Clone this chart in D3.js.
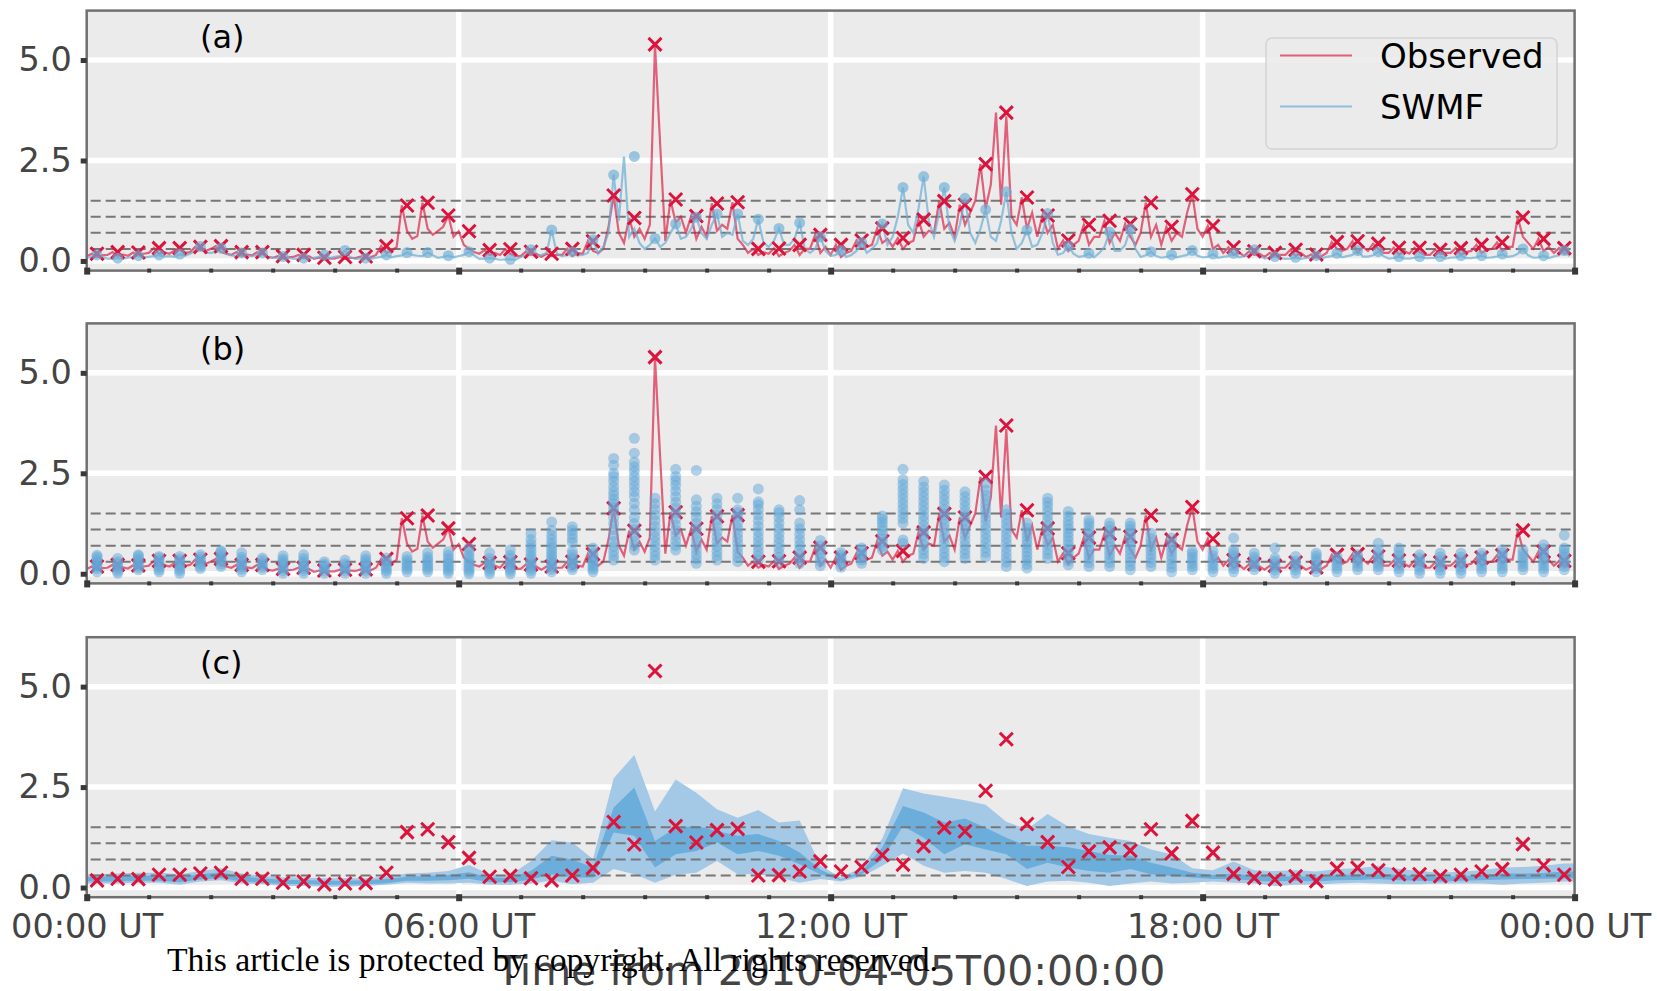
<!DOCTYPE html>
<html>
<head>
<meta charset="utf-8">
<script src="https://cdn.jsdelivr.net/npm/d3@7"></script>
<style>
  body { margin: 0; background: #fff; }
  svg { display: block; }
</style>
</head>
<body>
<div id="chart"></div>
<script>
// dB/dt comparison, 2010-04-05 (observed vs SWMF)

const hourTicks = [0, 360, 720, 1080, 1440];
const tickLabels = ["00:00 UT", "06:00 UT", "12:00 UT", "18:00 UT", "00:00 UT"];
const yTicks = [0, 2.5, 5.0];
const thresholds = [0.3, 0.7, 1.1, 1.5];
const panelLabels = ["(a)", "(b)", "(c)"];

// observed, 20 min maxima (one per window)
const obsMax = [0.18,0.22,0.21,0.32,0.32,0.35,0.37,0.22,0.22,0.12,0.15,0.08,0.10,0.11,0.37,1.38,1.45,1.13,0.74,0.27,
  0.29,0.23,0.18,0.30,0.49,1.63,1.07,5.39,1.53,1.12,1.43,1.46,0.30,0.31,0.40,0.65,0.40,0.51,0.81,0.57,
  1.03,1.49,1.40,2.41,3.69,1.58,1.13,0.51,0.90,1.00,0.92,1.45,0.85,1.66,0.87,0.34,0.24,0.20,0.28,0.16,
  0.47,0.49,0.43,0.33,0.33,0.28,0.32,0.40,0.46,1.08,0.55,0.32];

// SWMF, 20 min maxima
const swmfMax = [0.15,0.07,0.13,0.15,0.17,0.36,0.32,0.20,0.20,0.11,0.07,0.15,0.26,0.07,0.15,0.21,0.21,0.13,0.23,0.07,
  0.04,0.28,0.77,0.23,0.53,2.14,2.60,0.56,0.92,1.09,1.17,1.17,1.04,0.81,0.95,0.60,0.26,0.46,0.92,1.83,
  2.10,1.83,1.56,1.28,1.72,0.77,1.18,0.37,0.19,0.72,0.80,0.23,0.15,0.26,0.17,0.19,0.28,0.11,0.09,0.13,
  0.19,0.26,0.23,0.11,0.11,0.11,0.13,0.13,0.17,0.30,0.13,0.26];

// observed dB/dt, 5 min samples
const obsLine = [
  0.12,0.18,0.10,0.14, 0.15,0.22,0.12,0.16, 0.13,0.21,0.15,0.18, 0.20,0.32,0.18,0.22,
  0.18,0.26,0.32,0.20, 0.22,0.35,0.28,0.25, 0.30,0.37,0.22,0.18, 0.15,0.22,0.12,0.16,
  0.14,0.22,0.17,0.10, 0.08,0.12,0.06,0.09, 0.10,0.15,0.08,0.12, 0.05,0.08,0.04,0.06,
  0.06,0.10,0.05,0.08, 0.07,0.11,0.08,0.09, 0.15,0.37,0.20,0.25, 0.35,1.38,0.75,0.55,
  0.62,1.45,0.80,0.65, 0.75,0.85,1.13,0.60, 0.74,0.40,0.30,0.22, 0.18,0.27,0.15,0.20,
  0.15,0.29,0.18,0.12, 0.12,0.23,0.15,0.18, 0.10,0.18,0.12,0.15, 0.15,0.30,0.12,0.20,
  0.18,0.49,0.25,0.20, 0.30,0.85,1.63,0.70, 0.45,1.07,0.60,0.80, 0.55,0.90,5.39,2.90,
  0.50,1.53,0.95,1.10, 0.70,1.12,0.55,0.85, 0.60,1.43,0.75,0.90, 0.80,1.46,0.55,0.40,
  0.20,0.30,0.15,0.22, 0.18,0.31,0.12,0.20, 0.25,0.40,0.15,0.30, 0.30,0.65,0.20,0.35,
  0.15,0.40,0.10,0.20, 0.25,0.51,0.30,0.35, 0.40,0.81,0.45,0.55, 0.35,0.57,0.30,0.45,
  0.50,1.03,0.60,0.75, 0.70,1.49,0.80,0.95, 0.60,1.40,0.90,1.20, 1.50,2.41,1.30,1.90,
  3.69,1.40,3.60,1.10, 0.90,1.58,0.80,1.20, 0.60,1.13,0.70,0.90, 0.30,0.51,0.25,0.40,
  0.50,0.90,0.40,0.60, 0.60,1.00,0.45,0.70, 0.50,0.92,0.60,0.40, 0.70,1.45,0.60,0.90,
  0.40,0.85,0.50,0.70, 0.60,1.20,1.66,0.80, 0.60,0.87,0.30,0.40, 0.20,0.34,0.15,0.22,
  0.12,0.24,0.15,0.18, 0.10,0.20,0.12,0.15, 0.15,0.28,0.12,0.20, 0.10,0.16,0.08,0.12,
  0.20,0.47,0.30,0.25, 0.30,0.49,0.20,0.35, 0.25,0.43,0.30,0.20, 0.20,0.33,0.15,0.25,
  0.18,0.33,0.22,0.15, 0.15,0.28,0.18,0.20, 0.20,0.32,0.15,0.22, 0.25,0.40,0.20,0.28,
  0.30,0.46,0.25,0.35, 0.35,1.08,0.60,0.45, 0.30,0.55,0.25,0.35, 0.20,0.32,0.18,0.22];

// SWMF dB/dt, 5 min samples
const swmfLine = [
  0.08,0.10,0.15,0.09, 0.06,0.05,0.07,0.06, 0.08,0.10,0.13,0.09, 0.10,0.12,0.15,0.11,
  0.12,0.10,0.17,0.13, 0.18,0.25,0.36,0.20, 0.20,0.22,0.32,0.18, 0.14,0.12,0.20,0.13,
  0.12,0.15,0.20,0.10, 0.08,0.07,0.11,0.08, 0.05,0.06,0.07,0.05, 0.08,0.10,0.15,0.07,
  0.10,0.12,0.26,0.09, 0.05,0.06,0.07,0.05, 0.08,0.10,0.15,0.09, 0.12,0.14,0.21,0.15,
  0.13,0.12,0.21,0.14, 0.08,0.10,0.13,0.09, 0.12,0.15,0.23,0.14, 0.05,0.06,0.07,0.05,
  0.03,0.04,0.04,0.03, 0.10,0.15,0.28,0.12, 0.15,0.20,0.77,0.18, 0.12,0.15,0.23,0.14,
  0.15,0.20,0.53,0.18, 0.35,0.70,2.14,1.00, 2.60,0.60,0.80,0.45, 0.30,0.40,0.56,0.35,
  0.45,0.70,0.92,0.55, 0.60,0.80,1.09,0.70, 0.55,0.90,1.17,0.60, 0.70,0.65,1.17,0.50,
  0.40,0.55,1.04,0.45, 0.35,0.50,0.81,0.40, 0.40,0.55,0.95,0.30, 0.20,0.30,0.60,0.25,
  0.12,0.15,0.26,0.10, 0.15,0.25,0.46,0.20, 0.30,0.45,0.92,0.40, 0.60,1.10,1.83,0.90,
  0.70,1.30,2.10,1.00, 0.60,1.20,1.83,0.80, 0.50,0.90,1.56,0.70, 0.45,0.80,1.28,0.60,
  0.50,1.00,1.72,0.70, 0.30,0.45,0.77,0.35, 0.40,0.70,1.18,0.45, 0.15,0.20,0.37,0.18,
  0.10,0.12,0.19,0.09, 0.20,0.35,0.72,0.25, 0.25,0.40,0.80,0.30, 0.10,0.14,0.23,0.12,
  0.08,0.10,0.15,0.09, 0.12,0.15,0.26,0.13, 0.09,0.10,0.17,0.08, 0.10,0.12,0.19,0.09,
  0.12,0.15,0.28,0.13, 0.06,0.08,0.11,0.07, 0.05,0.06,0.09,0.05, 0.07,0.08,0.13,0.06,
  0.10,0.12,0.19,0.09, 0.12,0.15,0.26,0.11, 0.11,0.14,0.23,0.12, 0.06,0.07,0.11,0.06,
  0.06,0.08,0.11,0.07, 0.07,0.08,0.11,0.06, 0.08,0.09,0.13,0.07, 0.07,0.09,0.13,0.08,
  0.09,0.11,0.17,0.10, 0.12,0.18,0.30,0.14, 0.08,0.09,0.13,0.07, 0.11,0.14,0.26,0.12];

// ensemble members per 20 min window (panel b)
const ensemble = [
  [0.05,0.12,0.18,0.24,0.30,0.36,0.42,0.46],
  [0.01,0.06,0.12,0.18,0.24,0.30,0.38],
  [0.10,0.15,0.20,0.26,0.32,0.38,0.44,0.47],
  [0.05,0.10,0.16,0.22,0.28,0.34,0.40,0.43],
  [0.01,0.07,0.13,0.19,0.25,0.31,0.37,0.43],
  [0.13,0.18,0.24,0.30,0.36,0.42,0.47],
  [0.18,0.24,0.30,0.36,0.42,0.48,0.54,0.57],
  [0.05,0.11,0.17,0.23,0.29,0.35,0.41,0.52],
  [0.10,0.16,0.22,0.28,0.34,0.39],
  [0.01,0.07,0.13,0.19,0.25,0.31,0.37,0.45],
  [0.01,0.07,0.13,0.19,0.25,0.31,0.38,0.47],
  [0.01,0.07,0.13,0.19,0.24,0.30],
  [0.01,0.07,0.13,0.19,0.25,0.34],
  [0.01,0.07,0.13,0.19,0.25,0.31,0.37,0.45],
  [0.01,0.07,0.13,0.19,0.25,0.31,0.39],
  [0.05,0.11,0.17,0.23,0.29,0.35,0.43],
  [0.05,0.11,0.17,0.23,0.29,0.35,0.42,0.52],
  [0.01,0.07,0.13,0.19,0.25,0.31,0.38,0.46,0.55],
  [0.00,0.06,0.12,0.18,0.24,0.30,0.38,0.46,0.55,0.64],
  [0.00,0.06,0.12,0.18,0.24,0.30,0.38,0.52],
  [0.00,0.06,0.12,0.18,0.24,0.30,0.38,0.46,0.59],
  [0.01,0.07,0.13,0.19,0.25,0.31,0.38,0.46,0.55,0.64,0.74,0.85,1.00],
  [0.05,0.11,0.17,0.23,0.29,0.36,0.43,0.50,0.58,0.66,0.75,0.85,0.96,1.08,1.29],
  [0.10,0.16,0.22,0.28,0.34,0.40,0.48,0.56,0.78,0.88,0.98,1.08,1.17],
  [0.05,0.11,0.17,0.23,0.29,0.36,0.44,0.52,0.64],
  [0.34,0.45,0.56,0.68,0.80,0.95,1.10,1.25,1.40,1.55,1.65,1.75,1.85,1.95,2.05,2.17,2.30,2.42,2.50,2.70,2.87],
  [0.59,0.70,0.82,0.95,1.10,1.25,1.40,1.59,1.75,1.92,2.05,2.18,2.30,2.42,2.55,2.66,2.78,3.00,3.37],
  [0.34,0.45,0.56,0.68,0.80,0.92,1.05,1.18,1.32,1.46,1.60,1.74,1.88],
  [0.59,0.70,0.82,0.95,1.08,1.22,1.36,1.50,1.64,1.78,1.92,2.06,2.20,2.32,2.42,2.60],
  [0.26,0.37,0.48,0.60,0.72,0.85,0.98,1.12,1.26,1.40,1.54,1.68,1.84,2.57],
  [0.34,0.45,0.56,0.68,0.80,0.92,1.05,1.18,1.32,1.46,1.60,1.74,1.88],
  [0.30,0.41,0.52,0.64,0.76,0.88,1.00,1.13,1.26,1.40,1.52,1.59,1.88],
  [0.34,0.45,0.56,0.68,0.80,0.92,1.05,1.18,1.32,1.46,1.60,1.72,1.79,2.11],
  [0.30,0.41,0.52,0.64,0.76,0.88,1.00,1.13,1.26,1.40,1.52,1.59],
  [0.26,0.37,0.48,0.60,0.72,0.85,0.98,1.12,1.26,1.59,1.82],
  [0.20,0.30,0.40,0.50,0.60,0.70,0.83],
  [0.16,0.24,0.32,0.40,0.47,0.53],
  [0.26,0.34,0.42,0.50,0.58,0.64],
  [0.59,0.68,0.78,0.88,0.98,1.08,1.18,1.28,1.36,1.44],
  [0.76,0.84,1.26,1.38,1.50,1.62,1.74,1.86,1.98,2.10,2.22,2.34,2.60],
  [0.38,0.49,0.60,0.72,0.84,0.96,1.08,1.20,1.32,1.44,1.56,1.68,1.80,1.92,2.04,2.16,2.30],
  [0.30,0.41,0.52,0.64,0.76,0.88,1.00,1.12,1.24,1.36,1.48,1.60,1.72,1.84,1.96,2.08,2.21],
  [0.38,0.49,0.60,0.72,0.84,0.96,1.08,1.20,1.32,1.44,1.56,1.68,1.80,1.92,2.04],
  [0.42,0.53,0.64,0.76,0.88,1.00,1.12,1.24,1.36,1.48,1.60,1.72,1.84,1.96,2.08,2.25],
  [0.18,0.29,0.40,0.52,0.64,0.76,0.88,1.00,1.12,1.24,1.36,1.48,1.59],
  [0.14,0.24,0.34,0.44,0.54,0.64,0.74,0.84,0.94,1.04,1.14,1.26],
  [0.38,0.49,0.60,0.72,0.84,0.96,1.08,1.20,1.32,1.44,1.56,1.68,1.78,1.88],
  [0.22,0.32,0.42,0.52,0.62,0.72,0.82,0.92,1.02,1.12,1.22,1.32,1.44,1.55],
  [0.18,0.28,0.38,0.48,0.58,0.68,0.78,0.88,0.98,1.08,1.18,1.26,1.34],
  [0.18,0.28,0.38,0.48,0.58,0.68,0.78,0.88,0.98,1.08,1.18,1.26],
  [0.10,0.20,0.30,0.40,0.50,0.60,0.70,0.80,0.90,1.00,1.10,1.18,1.26],
  [0.18,0.28,0.38,0.48,0.58,0.68,0.78,0.88,1.01],
  [0.05,0.15,0.25,0.35,0.45,0.55,0.65,0.75,0.89],
  [0.10,0.18,0.26,0.34,0.42,0.50,0.56],
  [0.05,0.13,0.21,0.29,0.37,0.45,0.56],
  [0.05,0.13,0.21,0.29,0.37,0.45,0.53,0.60,0.89],
  [0.10,0.18,0.26,0.34,0.42,0.51],
  [0.01,0.09,0.17,0.25,0.32,0.39,0.64],
  [0.01,0.09,0.17,0.25,0.32,0.43],
  [0.05,0.13,0.21,0.29,0.37,0.44,0.51],
  [0.05,0.13,0.21,0.29,0.36,0.43],
  [0.10,0.18,0.26,0.34,0.41,0.47],
  [0.10,0.18,0.26,0.34,0.42,0.50,0.60,0.76],
  [0.05,0.13,0.21,0.29,0.37,0.45,0.54,0.64],
  [0.01,0.09,0.17,0.25,0.32,0.39,0.47],
  [0.01,0.09,0.17,0.25,0.33,0.42,0.51],
  [0.01,0.09,0.17,0.25,0.33,0.42,0.51],
  [0.05,0.13,0.21,0.29,0.37,0.44,0.51],
  [0.05,0.13,0.21,0.29,0.37,0.45,0.52,0.60],
  [0.10,0.18,0.26,0.34,0.42,0.50,0.59],
  [0.05,0.13,0.21,0.29,0.37,0.45,0.53,0.62,0.72],
  [0.10,0.18,0.26,0.34,0.42,0.50,0.58,0.64,0.96]];

// ensemble spread per window (panel c): outer and inner ranges
const outerHi = [0.33,0.35,0.37,0.37,0.33,0.41,0.48,0.35,0.29,0.25,0.25,0.23,0.23,0.23,0.27,0.35,0.37,0.41,0.56,0.33,
  0.31,0.66,1.18,1.12,0.71,2.72,3.30,1.89,2.69,2.36,1.95,1.74,1.93,1.62,1.67,0.55,0.25,0.50,1.22,2.47,
  2.34,2.26,2.17,2.06,1.64,1.45,1.83,1.52,1.33,1.24,1.16,0.95,0.83,0.48,0.43,0.65,0.43,0.41,0.43,0.40,
  0.46,0.48,0.54,0.46,0.41,0.37,0.40,0.43,0.50,0.51,0.54,0.60];
const outerLo = [0.10,0.10,0.12,0.12,0.07,0.15,0.18,0.10,0.08,0.04,0.04,0.02,0.02,0.04,0.07,0.12,0.10,0.10,0.12,0.07,
  0.07,0.10,0.17,0.08,0.12,0.46,0.33,0.12,0.32,0.37,0.66,0.33,0.33,0.25,0.12,0.21,0.15,0.27,0.54,0.85,
  0.54,0.37,0.41,0.37,0.21,0.04,0.15,0.17,0.12,0.04,0.10,0.15,0.10,0.12,0.15,0.12,0.10,0.04,0.07,0.07,
  0.10,0.12,0.10,0.08,0.08,0.10,0.10,0.10,0.07,0.10,0.12,0.15];
const innerHi = [0.27,0.28,0.29,0.30,0.26,0.33,0.38,0.28,0.23,0.19,0.19,0.17,0.17,0.18,0.21,0.27,0.29,0.31,0.38,0.25,
  0.24,0.42,0.79,0.70,0.50,1.99,2.49,1.16,1.49,1.53,1.41,1.29,1.33,1.16,0.87,0.45,0.20,0.40,1.00,2.03,
  1.87,1.62,1.72,1.49,1.24,1.04,1.04,1.00,0.91,0.81,0.79,0.62,0.50,0.37,0.31,0.35,0.29,0.27,0.28,0.27,
  0.31,0.33,0.35,0.31,0.29,0.27,0.28,0.31,0.35,0.35,0.36,0.40];
const innerLo = [0.15,0.15,0.17,0.17,0.13,0.20,0.24,0.15,0.12,0.09,0.09,0.07,0.07,0.08,0.11,0.17,0.17,0.18,0.22,0.13,
  0.13,0.20,0.33,0.25,0.25,1.37,1.29,0.50,0.83,0.91,1.12,0.83,0.91,0.79,0.58,0.33,0.18,0.33,0.70,1.53,
  1.24,0.83,1.08,0.95,0.83,0.46,0.62,0.50,0.41,0.37,0.46,0.33,0.29,0.25,0.21,0.21,0.17,0.15,0.17,0.15,
  0.18,0.19,0.21,0.18,0.17,0.15,0.17,0.18,0.20,0.21,0.22,0.23];

// ---- layout ----
const W = 1657, H = 991;
const panelTops = [10.6, 323.4, 637.2];
const panelH = 260;

const red = "#dc143c";
const blue = "#6baed6";

const svg = d3.select("#chart").append("svg")
  .attr("width", W)
  .attr("height", H);

svg.append("rect").attr("width", W).attr("height", H).attr("fill", "#fff");

const x = d3.scaleLinear().domain([0, 1440]).range([86.7, 1574.6]);
const y = d3.scaleLinear().domain([-0.24, 6.23]).range([panelH, 0]);

svg.append("defs").append("clipPath").attr("id", "plotclip")
  .append("rect")
  .attr("x", x(0)).attr("y", 0)
  .attr("width", x(1440) - x(0)).attr("height", panelH);

const winT = obsMax.map((d, i) => i * 20 + 10);   // window centres (min)
const sampT = obsLine.map((d, i) => i * 5);       // 5 min sample times

const xMark = "M-6.5,-6.5L6.5,6.5M-6.5,6.5L6.5,-6.5";

function makePanel(i) {
  const g = svg.append("g").attr("transform", `translate(0,${panelTops[i]})`);
  g.append("rect")
    .attr("x", x(0)).attr("y", 0)
    .attr("width", x(1440) - x(0)).attr("height", panelH)
    .attr("fill", "#ebebeb");
  // grid
  g.selectAll(".hgrid").data(yTicks).enter().append("line")
    .attr("x1", x(0)).attr("x2", x(1440))
    .attr("y1", d => y(d)).attr("y2", d => y(d))
    .attr("stroke", "#fff").attr("stroke-width", 5.5);
  g.selectAll(".vgrid").data(hourTicks.slice(1, 4)).enter().append("line")
    .attr("x1", d => x(d)).attr("x2", d => x(d))
    .attr("y1", 0).attr("y2", panelH)
    .attr("stroke", "#fff").attr("stroke-width", 5.5);
  const inner = g.append("g").attr("clip-path", "url(#plotclip)");
  return { g, inner };
}

function drawThresholds(layer) {
  layer.selectAll(".thr").data(thresholds).enter().append("line")
    .attr("x1", x(0) + 4).attr("x2", x(1440))
    .attr("y1", d => y(d)).attr("y2", d => y(d))
    .attr("stroke", "#777").attr("stroke-width", 2)
    .attr("stroke-dasharray", "10,5");
}

function drawFrame(i, g) {
  g.append("rect")
    .attr("x", x(0)).attr("y", 0)
    .attr("width", x(1440) - x(0)).attr("height", panelH)
    .attr("fill", "none").attr("stroke", "#707070").attr("stroke-width", 2.5);

  g.append("g").attr("transform", `translate(${x(0)},0)`)
    .call(d3.axisLeft(y).tickValues(yTicks).tickFormat(d3.format(".1f")).tickSize(6).tickPadding(9))
    .call(a => a.select(".domain").remove())
    .call(a => a.selectAll("line").attr("stroke", "#383838").attr("stroke-width", 5))
    .call(a => a.selectAll("text")
      .attr("font-family", "DejaVu Sans").attr("font-size", 33.5).attr("fill", "#444"));

  g.append("g").attr("transform", `translate(0,${panelH - 2})`)
    .call(d3.axisBottom(x).tickValues(d3.range(0, 1441, 60)).tickSize(4).tickFormat(""))
    .call(a => a.select(".domain").remove())
    .call(a => a.selectAll("line").attr("stroke", "#383838").attr("stroke-width", 4));

  g.append("g").attr("transform", `translate(0,${panelH - 3})`)
    .call(d3.axisBottom(x).tickValues(hourTicks).tickSize(7).tickFormat(""))
    .call(a => a.select(".domain").remove())
    .call(a => a.selectAll("line").attr("stroke", "#383838").attr("stroke-width", 6));

  g.append("text")
    .attr("x", 200).attr("y", 37)
    .attr("font-family", "DejaVu Sans").attr("font-size", 32).attr("fill", "#000")
    .text(panelLabels[i]);
}

const obsPath = d3.line().x((d, i) => x(sampT[i])).y(d => y(d));

// ---------- panel (a) ----------
{
  const { g, inner } = makePanel(0);
  drawThresholds(inner);
  inner.append("path").datum(obsLine)
    .attr("d", obsPath)
    .attr("fill", "none").attr("stroke", red).attr("stroke-opacity", 0.65).attr("stroke-width", 2.2);
  inner.append("path").datum(swmfLine)
    .attr("d", obsPath)
    .attr("fill", "none").attr("stroke", blue).attr("stroke-opacity", 0.7).attr("stroke-width", 2.2);
  inner.selectAll(".om").data(obsMax).enter().append("path")
    .attr("d", xMark)
    .attr("transform", (d, i) => `translate(${x(winT[i])},${y(d)})`)
    .attr("stroke", red).attr("stroke-width", 3).attr("fill", "none");
  inner.selectAll(".sm").data(swmfMax).enter().append("circle")
    .attr("cx", (d, i) => x(winT[i])).attr("cy", d => y(d)).attr("r", 5.5)
    .attr("fill", blue).attr("fill-opacity", 0.65);
  drawFrame(0, g);

  // legend
  const lg = g.append("g");
  lg.append("rect")
    .attr("x", 1266).attr("y", 27.5).attr("width", 291).attr("height", 111).attr("rx", 6)
    .attr("fill", "#ebebeb").attr("fill-opacity", 0.9).attr("stroke", "#d4d4d4").attr("stroke-width", 1.5);
  const items = [
    { name: "Observed", color: red, op: 0.65, yy: 45 },
    { name: "SWMF", color: blue, op: 0.7, yy: 96 }
  ];
  lg.selectAll(".li").data(items).enter().append("line")
    .attr("x1", 1280).attr("x2", 1352)
    .attr("y1", d => d.yy).attr("y2", d => d.yy)
    .attr("stroke", d => d.color).attr("stroke-opacity", d => d.op).attr("stroke-width", 2);
  lg.selectAll(".lt").data(items).enter().append("text")
    .attr("x", 1380).attr("y", d => d.yy + 12.5)
    .attr("font-family", "DejaVu Sans").attr("font-size", 34).attr("fill", "#000")
    .text(d => d.name);
}

// ---------- panel (b) ----------
{
  const { g, inner } = makePanel(1);
  drawThresholds(inner);
  inner.append("path").datum(obsLine)
    .attr("d", obsPath)
    .attr("fill", "none").attr("stroke", red).attr("stroke-opacity", 0.65).attr("stroke-width", 2.2);
  inner.selectAll(".om").data(obsMax).enter().append("path")
    .attr("d", xMark)
    .attr("transform", (d, i) => `translate(${x(winT[i])},${y(d)})`)
    .attr("stroke", red).attr("stroke-width", 3).attr("fill", "none");
  const dots = [];
  ensemble.forEach((col, i) => col.forEach(v => dots.push({ t: winT[i], v })));
  inner.selectAll(".en").data(dots).enter().append("circle")
    .attr("cx", d => x(d.t)).attr("cy", d => y(d.v)).attr("r", 5.5)
    .attr("fill", "#62a8d8").attr("fill-opacity", 0.5);
  drawFrame(1, g);
}

// ---------- panel (c) ----------
{
  const { g, inner } = makePanel(2);
  // band vertices at window centres, held flat to the plot edges
  const bandT = [0, ...winT, 1440];
  const ext = arr => [arr[0], ...arr, arr[arr.length - 1]];
  const oHi = ext(outerHi), oLo = ext(outerLo), iHi = ext(innerHi), iLo = ext(innerLo);
  inner.append("path").datum(bandT)
    .attr("d", d3.area().x(d => x(d)).y0((d, i) => y(oLo[i])).y1((d, i) => y(oHi[i])))
    .attr("fill", "#a4c9e7");
  inner.append("path").datum(bandT)
    .attr("d", d3.area().x(d => x(d)).y0((d, i) => y(iLo[i])).y1((d, i) => y(iHi[i])))
    .attr("fill", "#6baddb");
  drawThresholds(inner);
  inner.selectAll(".om").data(obsMax).enter().append("path")
    .attr("d", xMark)
    .attr("transform", (d, i) => `translate(${x(winT[i])},${y(d)})`)
    .attr("stroke", red).attr("stroke-width", 3).attr("fill", "none");
  drawFrame(2, g);

  // time labels
  g.append("g").attr("transform", `translate(0,${panelH})`)
    .call(d3.axisBottom(x).tickValues(hourTicks).tickSize(0).tickFormat((d, i) => tickLabels[i]))
    .call(a => a.select(".domain").remove())
    .call(a => a.selectAll("text")
      .attr("y", 41).attr("dy", 0)
      .attr("font-family", "DejaVu Sans").attr("font-size", 33.5).attr("fill", "#444"));
}

// axis title and the journal watermark
svg.append("text")
  .attr("x", (x(0) + x(1440)) / 2).attr("y", 985)
  .attr("text-anchor", "middle")
  .attr("font-family", "DejaVu Sans").attr("font-size", 41).attr("fill", "#444")
  .text("Time from 2010-04-05T00:00:00");

svg.append("text")
  .attr("x", 167).attr("y", 971)
  .attr("font-family", "Liberation Serif").attr("font-size", 33).attr("fill", "#000")
  .attr("textLength", 771).attr("lengthAdjust", "spacingAndGlyphs")
  .text("This article is protected by copyright. All rights reserved.");
</script>
</body>
</html>
